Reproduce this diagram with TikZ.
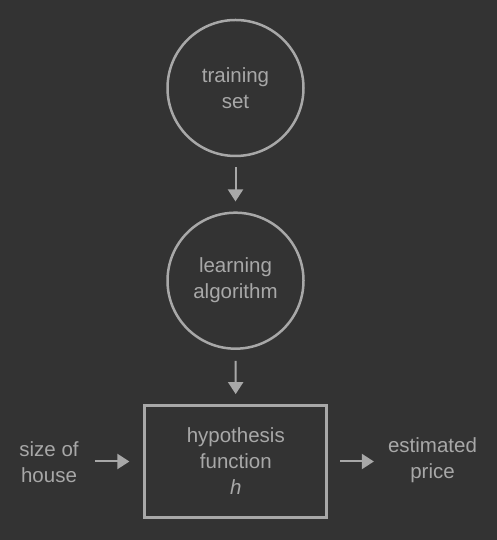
\documentclass[tikz,border=0pt]{standalone}
\usepackage{fontspec}
\setmainfont{Liberation Sans}
\usetikzlibrary{arrows.meta, positioning}

\definecolor{bgdark}{HTML}{333333}
\definecolor{inkgray}{HTML}{A8A8A8}

\tikzset{
  stage/.style = {circle, draw=inkgray, line width=2.5pt, inner sep=0pt, minimum size=136pt, align=center},
  hypbox/.style = {rectangle, draw=inkgray, line width=2.8pt, inner sep=0pt, minimum width=182pt, minimum height=112pt, align=center},
  plain/.style = {inner sep=0pt, align=center},
  flow/.style = {inkgray, line width=2pt, -{Triangle[width=15pt, length=12pt]}}
}

\begin{document}
\begin{tikzpicture}[x=1pt, y=1pt, every node/.style={text=inkgray, font=\fontsize{20.5}{26}\selectfont}]
%background
\useasboundingbox[fill=bgdark] (0, 0) rectangle (497, 540);

%stages
\node[stage] (train) at (235.5, 452) {training\\set};
\node[stage] (learn) at (235.5, 259.3) {learning\\algorithm};
\node[hypbox] (hyp) at (235.8, 78.5) {hypothesis\\function\\\textit{h}};

%input and output
\node[plain] (size) at (49, 78) {size of\\house};
\node[plain] (price) at (432.5, 79.7) {estimated\\price};

%arrows
\draw[flow, shorten <=10pt, shorten >=10pt] (train) -- (learn);
\draw[flow, shorten <=11pt, shorten >=10pt] (learn) -- (hyp);
\draw[flow, shorten <=16pt, shorten >=14pt] (size.east |- hyp) -- (hyp);
\draw[flow, shorten <=12pt, shorten >=14pt] (hyp) -- (price.west |- hyp);

\end{tikzpicture}
\end{document}
